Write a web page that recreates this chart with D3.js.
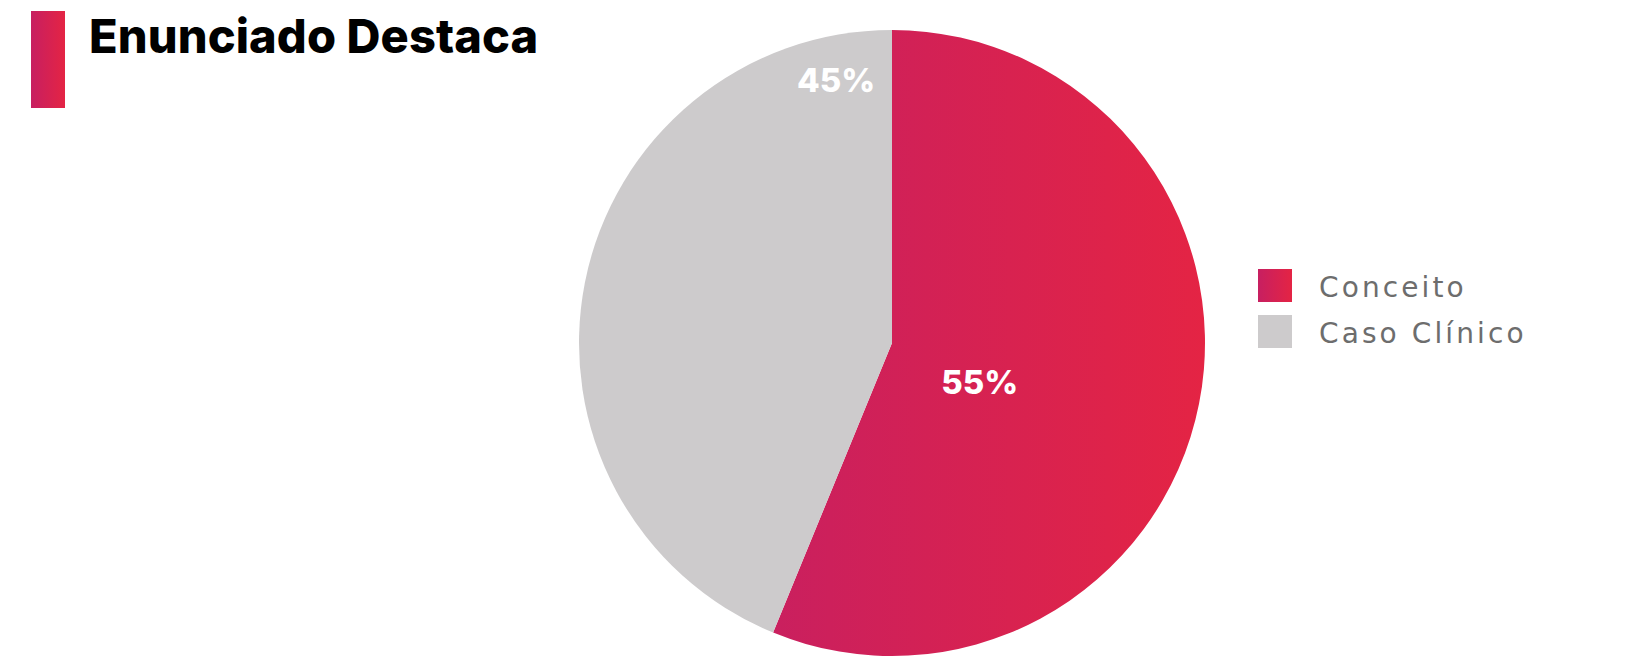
<!DOCTYPE html>
<html>
<head>
<meta charset="utf-8">
<script src="https://cdn.jsdelivr.net/npm/d3@7"></script>
<style>
  html, body { margin: 0; padding: 0; background: #fff; }
  svg { display: block; }
</style>
</head>
<body>
<svg id="chart" width="1646" height="666"></svg>
<script>
// ---- data ----
const title = "Enunciado Destaca";
const categories = ["Conceito", "Caso Clínico"];
// NOTE: slice sizes are measured from the reference's drawn slice geometry
// (boundary at ~202° => ~56.2%), which does not agree with its printed labels.
// The printed labels are kept verbatim below as text.
const values = [56.2, 43.8];
const labels = ["55%", "45%"];

// ---- layout ----
const W = 1646, H = 666;
const cx = 892, cy = 343, R = 313;
const svg = d3.select("#chart");
const defs = svg.append("defs");

function grad(id, x1, x2, units) {
  const g = defs.append("linearGradient").attr("id", id)
    .attr("x1", x1).attr("x2", x2).attr("y1", 0).attr("y2", 0);
  if (units) g.attr("gradientUnits", units);
  g.append("stop").attr("offset", "0%").attr("stop-color", "#C71F61");
  g.append("stop").attr("offset", "100%").attr("stop-color", "#E42444");
  return g;
}
grad("gradPie", -160, R, "userSpaceOnUse");
grad("gradBox", 0, 1);

const colors = ["url(#gradPie)", "#CDCBCC"];
const legendColors = ["url(#gradBox)", "#CDCBCC"];

// title
svg.append("rect").attr("x", 31).attr("y", 11).attr("width", 34).attr("height", 97)
  .attr("fill", "url(#gradBox)");
svg.append("text").attr("x", 89).attr("y", 53)
  .attr("font-family", "Inter, 'Open Sans', sans-serif")
  .attr("font-weight", 800).attr("font-size", 47).attr("fill", "#000")
  .attr("letter-spacing", 0.1)
  .text(title);

// pie
const pie = d3.pie().sort(null).value(d => d)
  .startAngle(0).endAngle(2 * Math.PI);
const arcs = pie(values);
const arc = d3.arc().innerRadius(0).outerRadius(R);
const g = svg.append("g").attr("transform", `translate(${cx},${cy})`);
g.selectAll("path.slice").data(arcs).join("path")
  .attr("class", "slice")
  .attr("d", arc)
  .attr("fill", (d, i) => colors[i]);

// labels: polar offsets (angle in degrees clockwise from top, radius)
const labelPolar = [[114, 96], [348, 269]];
g.selectAll("text.lbl").data(arcs).join("text")
  .attr("class", "lbl")
  .attr("x", (d, i) => Math.sin(labelPolar[i][0] * Math.PI / 180) * labelPolar[i][1])
  .attr("y", (d, i) => -Math.cos(labelPolar[i][0] * Math.PI / 180) * labelPolar[i][1])
  .attr("dy", "0.36em")
  .attr("text-anchor", "middle")
  .attr("font-family", "Inter, 'Open Sans', sans-serif")
  .attr("font-weight", 800).attr("font-size", 33).attr("fill", "#fff")
  .text((d, i) => labels[i]);

// legend
const legend = svg.append("g").attr("transform", "translate(1258,269)");
const li = legend.selectAll("g").data(categories).join("g")
  .attr("transform", (d, i) => `translate(0,${i * 46})`);
li.append("rect").attr("width", 34).attr("height", 33)
  .attr("fill", (d, i) => legendColors[i]);
li.append("text").attr("x", 61).attr("y", 28)
  .attr("font-family", "'DejaVu Sans', sans-serif")
  .attr("font-size", 28).attr("fill", "#6D6D6D")
  .attr("letter-spacing", 3.1)
  .text(d => d);
</script>
</body>
</html>
